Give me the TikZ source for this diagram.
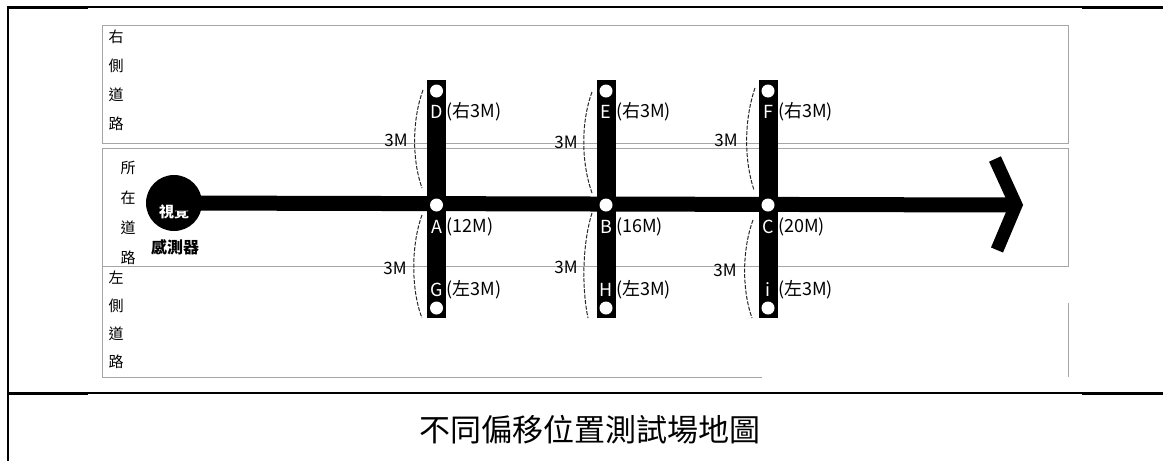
\documentclass[tikz,border=0pt]{standalone}
\usepackage{fontspec}
\setmainfont{Noto Sans CJK TC}
\begin{document}
\begin{tikzpicture}[x=1pt,y=-1pt, font=\fontsize{18}{18}\selectfont,
  thinframe/.style={line width=1.3pt, black},
  thickframe/.style={line width=3pt, black},
  roadbox/.style={draw=black!35, line width=0.9pt},
  bar/.style={fill=black, inner sep=0, minimum width=19, minimum height=238},
  hole/.style={circle, fill=white, minimum size=13, inner sep=0},
  inlbl/.style={text=white, inner sep=0},
  sidelbl/.style={anchor=west, inner sep=0},
  distlbl/.style={inner sep=0, font=\fontsize{17}{17}\selectfont},
  offbrace/.style={dash pattern=on 4pt off 1.5pt, line width=1pt, black!85},
  vlbl/.style={inner sep=0, font=\fontsize{15}{15}\selectfont},
  road/.style={line width=15, black},
  arrowarm/.style={line width=13, black, line join=miter}]
\useasboundingbox (0,0) rectangle (1163,461);
% outer frame
\draw[line width=2pt] (8,6) -- (8,461);
\draw[thinframe] (8,7) -- (1163,7);
\draw[thickframe] (8,7) -- (88,7) (1082,7) -- (1163,7);
\draw[thinframe] (8,393) -- (1163,393);
\draw[thickframe] (8,393) -- (88,393) (1082,393) -- (1163,393);
% road boxes
\draw[roadbox] (102,25) rectangle (1068,143);
\draw[roadbox] (102,148) rectangle (1068,266);
\draw[roadbox] (102,266) -- (102,377) -- (762,377);
\draw[roadbox] (1068,303) -- (1068,377);
% vertical road labels
\foreach \c [count=\i] in {右,側,道,路} \node[vlbl] (r\i) at (116,8+29*\i) {\c};
\foreach \c [count=\i] in {所,在,道,路} \node[vlbl] (m\i) at (128,138+30*\i) {\c};
\foreach \c [count=\i] in {左,側,道,路} \node[vlbl] (l\i) at (116,250+28*\i) {\c};
% sensor
\node[circle, fill=black, minimum size=56, inner sep=0] (sensor) at (174,203) {};
\node[inlbl, font=\fontsize{15}{15}\selectfont\bfseries] (sensortxt) at (174,212) {視覺};
\node[inner sep=0, font=\fontsize{16}{16}\selectfont\bfseries] (sensorlbl) at (175,247) {感測器};
% main road and arrow
\coordinate (tip) at (1016,205);
\draw[road] (sensor.center) -- (1010,205);
\draw[arrowarm] (995,159) -- (tip) -- (997,250);
% bars
\node[bar] (barA) at (436.5,199) {};
\node[bar] (barB) at (606,199) {};
\node[bar] (barC) at (768,199) {};
\foreach \n/\x/\t/\m/\b/\dt/\dm/\db in {A/436.5/D/A/G/右3M/12M/左3M, B/606/E/B/H/右3M/16M/左3M, C/768/F/C/i/右3M/20M/左3M}{
  \node[hole] (top\n) at (\x,91) {};
  \node[hole] (mid\n) at (\x,205) {};
  \node[hole] (bot\n) at (\x,308) {};
  \node[inlbl] (lt\n) at (\x,112) {\t};
  \node[inlbl] (lm\n) at (\x,227) {\m};
  \node[inlbl] (lb\n) at (\x,290) {\b};
  \node[sidelbl] (st\n) at (\x+10,112) {(\dt)};
  \node[sidelbl] (sm\n) at (\x+10,227) {(\dm)};
  \node[sidelbl] (sb\n) at (\x+10,290) {(\db)};
}
% offset braces and labels
\node[distlbl] (dAu) at (396,140) {3M};
\node[distlbl] (dAl) at (395,268) {3M};
\node[distlbl] (dBu) at (566,142) {3M};
\node[distlbl] (dBl) at (566,267) {3M};
\node[distlbl] (dCu) at (726,140) {3M};
\node[distlbl] (dCl) at (725,270) {3M};
\draw[offbrace] (423,90) .. controls (412,120) and (412,160) .. (422,188);
\draw[offbrace] (422,215) .. controls (411,245) and (411,290) .. (422,318);
\draw[offbrace] (592,92) .. controls (581,122) and (581,162) .. (592,193);
\draw[offbrace] (592,213) .. controls (582,245) and (582,290) .. (588,318);
\draw[offbrace] (755,88) .. controls (744,120) and (744,160) .. (754,190);
\draw[offbrace] (753,220) .. controls (742,250) and (742,290) .. (752,318);
% caption
\node[inner sep=0, font=\fontsize{31}{31}\selectfont] (caption) at (590,430) {不同偏移位置測試場地圖};
\end{tikzpicture}
\end{document}
